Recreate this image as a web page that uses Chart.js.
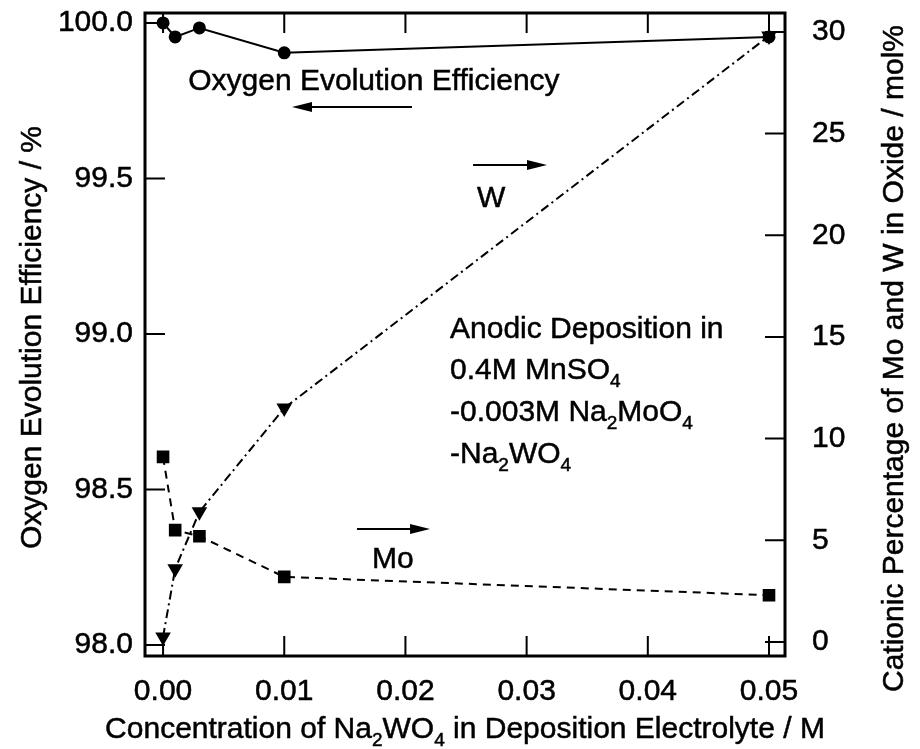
<!DOCTYPE html>
<html>
<head>
<meta charset="utf-8">
<script src="https://cdn.jsdelivr.net/npm/chart.js@4.4.1/dist/chart.umd.min.js"></script>
<style>
html, body { margin: 0; padding: 0; background: #fff; }
</style>
</head>
<body>
<canvas id="chartDeposition" width="920" height="749"></canvas>
<script>
// data
var concentration = [0, 0.001, 0.003, 0.01, 0.05];
var oxygenEfficiency = [100.0, 99.955, 99.984, 99.904, 99.955];
var moPercent = [9.1, 5.5, 5.2, 3.2, 2.3];
var wPercent = [0.25, 3.6, 6.4, 11.5, 29.8];
var xTicks = [0, 0.01, 0.02, 0.03, 0.04, 0.05];
var leftTicks = [98.0, 98.5, 99.0, 99.5, 100.0];
var rightTicks = [0, 5, 10, 15, 20, 25, 30];

var FONT = "'Liberation Sans', Arial, Helvetica, sans-serif";
var FS = 30;
var STROKE = 0.5;

// annotations, placed in x / left-axis units
var notes = [
    {text: 'Oxygen Evolution Efficiency', x: 0.00208, y: 99.785},
    {text: 'W', x: 0.0259, y: 99.408},
    {text: 'Mo', x: 0.01724, y: 98.248},
    {text: 'Anodic Deposition in', x: 0.02368, y: 98.987},
    {text: '0.4M MnSO_4', x: 0.02368, y: 98.855},
    {text: '-0.003M Na_2MoO_4', x: 0.02368, y: 98.72},
    {text: '-Na_2WO_4', x: 0.02368, y: 98.585}
];
var arrows = [
    {x1: 0.02054, x2: 0.01064, y: 99.73},
    {x1: 0.02558, x2: 0.03168, y: 99.543},
    {x1: 0.016, x2: 0.02203, y: 98.373}
];

function pts(ys) {
    return concentration.map(function (c, i) { return {x: c, y: ys[i]}; });
}

function textOut(ctx, s, x, y) {
    ctx.fillText(s, x, y);
    ctx.strokeText(s, x, y);
}

// text with "_n" subscripts
function richWidth(ctx, str, size) {
    var parts = str.split(/_(\d)/), w = 0;
    for (var i = 0; i < parts.length; i++) {
        ctx.font = (i % 2 ? Math.round(size * 0.62) : size) + 'px ' + FONT;
        w += ctx.measureText(parts[i]).width;
    }
    return w;
}
function drawRich(ctx, str, x, y, size) {
    var parts = str.split(/_(\d)/);
    for (var i = 0; i < parts.length; i++) {
        var sub = i % 2 === 1;
        ctx.font = (sub ? Math.round(size * 0.62) : size) + 'px ' + FONT;
        textOut(ctx, parts[i], x, sub ? y + size * 0.25 : y);
        x += ctx.measureText(parts[i]).width;
    }
}

var framePlugin = {
    id: 'frame',
    afterDatasetsDraw: function (chart) {
        var ctx = chart.ctx, a = chart.chartArea;
        var sx = chart.scales.x, sy = chart.scales.y, sy2 = chart.scales.y2;
        var tl = 20;
        ctx.save();
        ctx.strokeStyle = '#000';
        ctx.lineWidth = 2;
        ctx.beginPath();
        xTicks.forEach(function (v) {
            var px = sx.getPixelForValue(v);
            ctx.moveTo(px, a.bottom); ctx.lineTo(px, a.bottom - tl);
            ctx.moveTo(px, a.top); ctx.lineTo(px, a.top + tl);
        });
        leftTicks.forEach(function (v) {
            var py = sy.getPixelForValue(v);
            ctx.moveTo(a.left, py); ctx.lineTo(a.left + tl, py);
        });
        rightTicks.forEach(function (v) {
            var py = sy2.getPixelForValue(v);
            ctx.moveTo(a.right, py); ctx.lineTo(a.right - tl, py);
        });
        ctx.stroke();
        ctx.lineWidth = 3;
        ctx.strokeRect(a.left, a.top, a.right - a.left, a.bottom - a.top);

        // notes and arrows
        ctx.fillStyle = '#000';
        ctx.lineWidth = STROKE;
        ctx.textBaseline = 'alphabetic';
        ctx.textAlign = 'left';
        notes.forEach(function (n) {
            drawRich(ctx, n.text, sx.getPixelForValue(n.x), sy.getPixelForValue(n.y), FS);
        });
        ctx.lineWidth = 2;
        arrows.forEach(function (ar) {
            var x1 = sx.getPixelForValue(ar.x1), x2 = sx.getPixelForValue(ar.x2);
            var y = sy.getPixelForValue(ar.y);
            var dir = x2 > x1 ? 1 : -1;
            ctx.beginPath();
            ctx.moveTo(x1, y); ctx.lineTo(x2 - dir * 15, y);
            ctx.stroke();
            ctx.beginPath();
            ctx.moveTo(x2, y);
            ctx.lineTo(x2 - dir * 20, y - 5);
            ctx.lineTo(x2 - dir * 20, y + 5);
            ctx.closePath();
            ctx.fill();
        });

        // axis titles
        ctx.lineWidth = STROKE;
        var xt = 'Concentration of Na_2WO_4 in Deposition Electrolyte / M';
        var w = richWidth(ctx, xt, FS);
        drawRich(ctx, xt, (a.left + a.right) / 2 - w / 2, a.bottom + 82, FS);

        ctx.font = FS + 'px ' + FONT;
        ctx.textAlign = 'center';
        ctx.save();
        ctx.translate(41, (a.top + a.bottom) / 2 + 3);
        ctx.rotate(-Math.PI / 2);
        textOut(ctx, 'Oxygen Evolution Efficiency / %', 0, 0);
        ctx.restore();
        ctx.save();
        ctx.translate(903, (a.top + a.bottom) / 2 + 24);
        ctx.rotate(-Math.PI / 2);
        textOut(ctx, 'Cationic Percentage of Mo and W in Oxide / mol%', 0, 0);
        ctx.restore();
        ctx.restore();
    }
};

var tickFont = {family: FONT, size: FS};

var ctx1 = document.getElementById('chartDeposition').getContext('2d');
var myChart1 = new Chart(ctx1, {
    type: 'scatter',
    data: {
        datasets: [{
            label: 'Oxygen Evolution Efficiency',
            data: pts(oxygenEfficiency),
            yAxisID: 'y',
            showLine: true,
            borderColor: '#000',
            backgroundColor: '#000',
            borderWidth: 2,
            pointStyle: 'circle',
            pointRadius: 5.5,
            pointHoverRadius: 5.5
        }, {
            label: 'Mo',
            data: pts(moPercent),
            yAxisID: 'y2',
            showLine: true,
            borderColor: '#000',
            backgroundColor: '#000',
            borderWidth: 2,
            borderDash: [8, 6],
            pointStyle: 'rect',
            pointRadius: 7.5,
            pointHoverRadius: 7.5
        }, {
            label: 'W',
            data: pts(wPercent),
            yAxisID: 'y2',
            showLine: true,
            borderColor: '#000',
            backgroundColor: '#000',
            borderWidth: 2,
            borderDash: [9, 4, 2, 4],
            pointStyle: 'triangle',
            pointRotation: 180,
            pointRadius: 7,
            pointHoverRadius: 7
        }]
    },
    options: {
        responsive: false,
        animation: false,
        devicePixelRatio: 1,
        layout: {padding: {top: 13, left: 0, right: 0, bottom: 0}},
        plugins: {legend: {display: false}, tooltip: {enabled: false}},
        scales: {
            x: {
                type: 'linear',
                position: 'bottom',
                min: -0.00149,
                max: 0.05132,
                grid: {display: false, drawTicks: false},
                border: {display: false},
                afterBuildTicks: function (s) { s.ticks = xTicks.map(function (v) { return {value: v}; }); },
                afterFit: function (s) { s.height = 93; s.paddingLeft = 0; s.paddingRight = 0; },
                ticks: {
                    color: '#000', font: tickFont, padding: 18, maxRotation: 0,
                    textStrokeColor: '#000', textStrokeWidth: STROKE,
                    callback: function (v) { return v.toFixed(2); }
                }
            },
            y: {
                type: 'linear',
                position: 'left',
                min: 97.965,
                max: 100.032,
                grid: {display: false, drawTicks: false},
                border: {display: false},
                afterBuildTicks: function (s) { s.ticks = leftTicks.map(function (v) { return {value: v}; }); },
                afterFit: function (s) { s.width = 145; s.paddingTop = 0; s.paddingBottom = 0; },
                ticks: {
                    color: '#000', font: tickFont, padding: 12,
                    textStrokeColor: '#000', textStrokeWidth: STROKE,
                    callback: function (v) { return v.toFixed(1); }
                }
            },
            y2: {
                type: 'linear',
                position: 'right',
                min: -0.69,
                max: 30.93,
                grid: {display: false, drawTicks: false},
                border: {display: false},
                afterBuildTicks: function (s) { s.ticks = rightTicks.map(function (v) { return {value: v}; }); },
                afterFit: function (s) { s.width = 135; s.paddingTop = 0; s.paddingBottom = 0; },
                ticks: {
                    color: '#000', font: tickFont, padding: 27,
                    textStrokeColor: '#000', textStrokeWidth: STROKE,
                    callback: function (v) { return String(v); }
                }
            }
        }
    },
    plugins: [framePlugin]
});
</script>
</body>
</html>
